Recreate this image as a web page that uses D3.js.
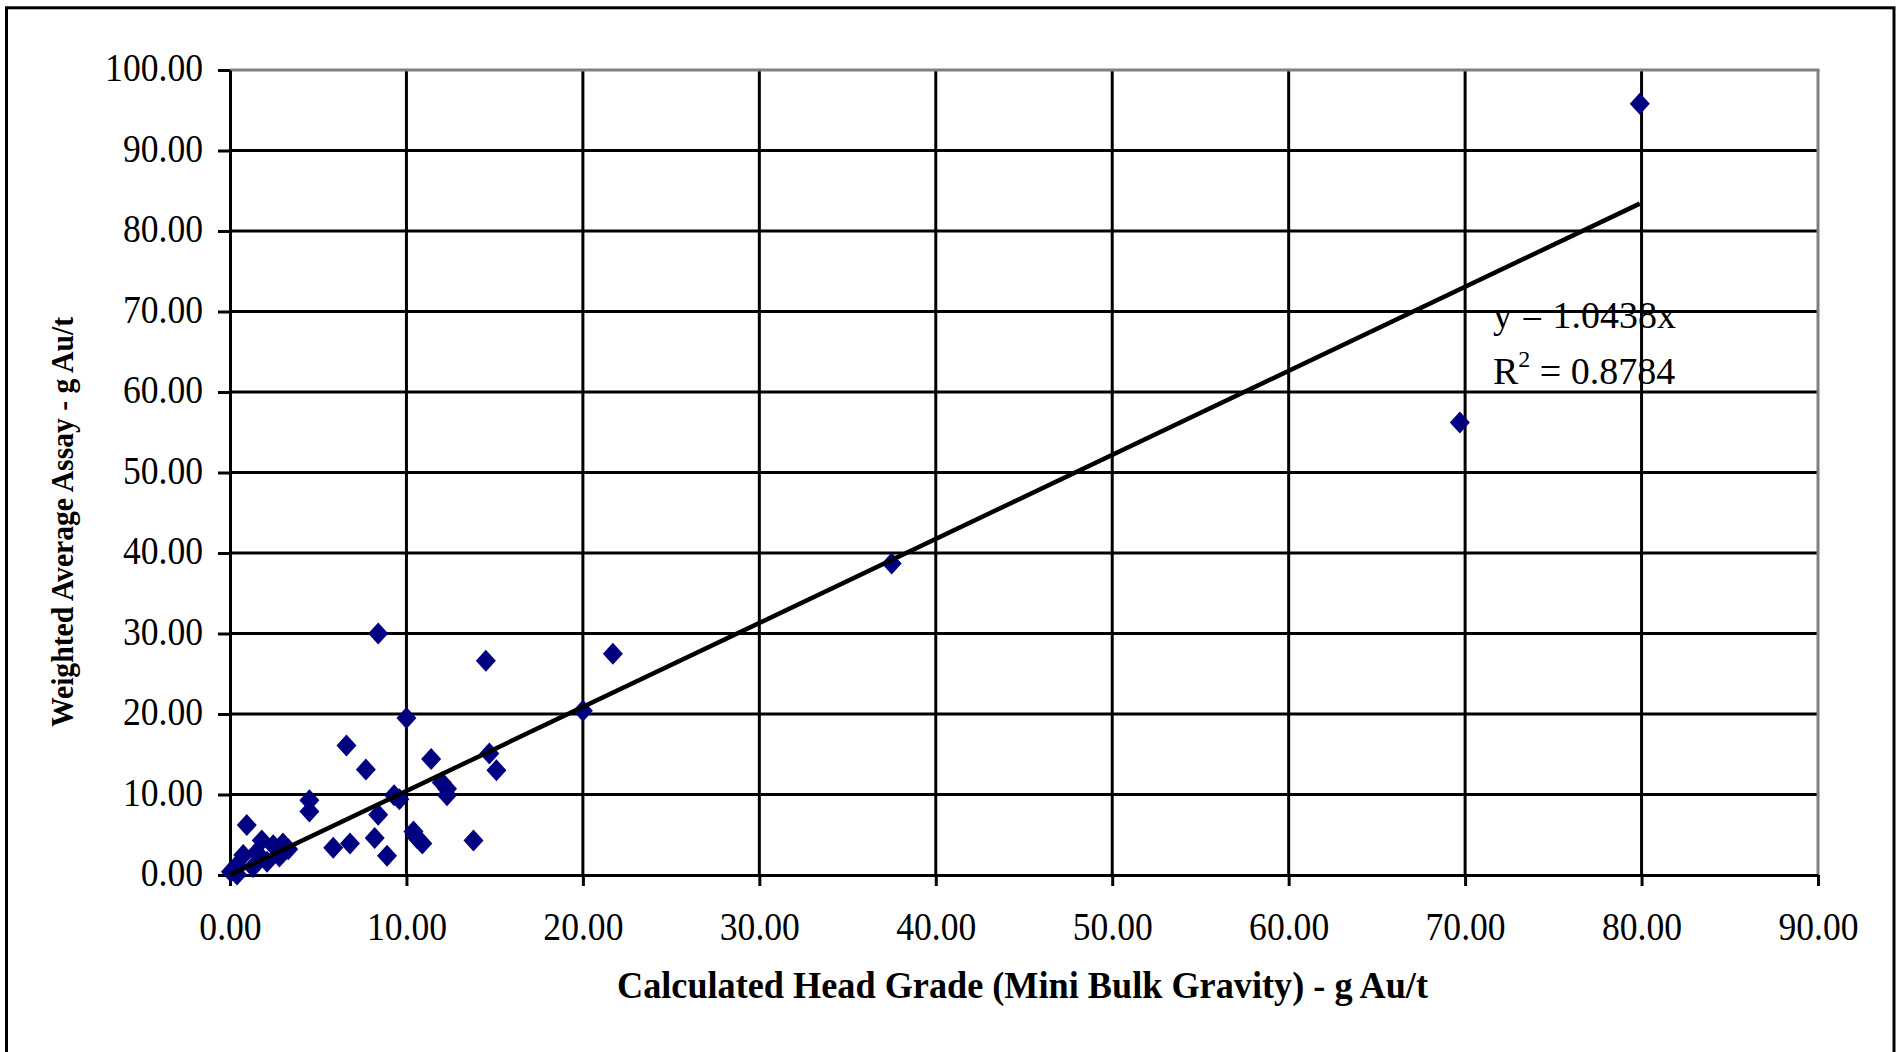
<!DOCTYPE html>
<html><head><meta charset="utf-8">
<script src="https://cdn.jsdelivr.net/npm/d3@7"></script>
<style>html,body{margin:0;padding:0;background:#fff;overflow:hidden}</style>
</head><body>
<svg id="chart" width="1900" height="1052"></svg>
<script>
// ---- data ----
const headGrade = [79.9, 69.7, 37.5, 21.7, 20.0, 8.4, 14.5, 10.0, 6.6, 7.7, 11.4, 14.7, 15.1, 12.0, 12.3, 12.3, 9.3, 9.6, 4.5, 4.5, 8.4, 10.4, 10.6, 10.9, 8.2, 8.9, 13.8, 5.85, 6.8, 0.95, 1.8, 2.45, 3.0, 2.8, 2.1, 0.75, 0.4, 0.05, 0.4, 1.3, 1.5, 3.3];
const assay     = [95.8, 56.2, 38.7, 27.5, 20.4, 30.0, 26.6, 19.5, 16.1, 13.1, 14.4, 15.1, 13.0, 11.5, 10.7, 9.9, 9.9, 9.4, 9.3, 7.9, 7.5, 5.4, 4.6, 3.9, 4.6, 2.4, 4.3, 3.4, 3.9, 6.2, 4.3, 3.7, 3.9, 2.3, 1.65, 2.5, 1.2, 0.4, 0.05, 1.0, 2.8, 3.2];
const xTickValues = [0, 10, 20, 30, 40, 50, 60, 70, 80, 90];
const yTickValues = [0, 10, 20, 30, 40, 50, 60, 70, 80, 90, 100];
const trendSlope = 1.0438;
const rSquared = 0.8784;
const xTitle = "Calculated Head Grade (Mini Bulk Gravity) - g Au/t";
const yTitle = "Weighted Average Assay - g Au/t";

// ---- layout ----
const W = 1900, H = 1052;
const P = {left: 230, right: 1818, top: 70, bottom: 875};
const svg = d3.select("#chart");
const x = d3.scaleLinear().domain([0, 90]).range([P.left, P.right]);
const y = d3.scaleLinear().domain([0, 100]).range([P.bottom, P.top]);
const fmt = d3.format(".2f");
const serif = "'Liberation Serif','Times New Roman',serif";

svg.append("rect").attr("width", W).attr("height", H).attr("fill", "#fff");
// outer chart frame (bottom edge falls outside the picture)
svg.append("rect").attr("x", 6.5).attr("y", 7.8).attr("width", 1887.5).attr("height", 1100)
  .attr("fill", "none").attr("stroke", "#000").attr("stroke-width", 3);

// gridlines
const grid = svg.append("g");
grid.selectAll("line.h").data(yTickValues.filter(v => v > 0 && v < 100)).join("line")
  .attr("x1", P.left).attr("x2", P.right).attr("y1", d => y(d)).attr("y2", d => y(d))
  .attr("stroke", "#000").attr("stroke-width", 3);
grid.selectAll("line.v").data(xTickValues.filter(v => v > 0 && v < 90)).join("line")
  .attr("y1", P.top).attr("y2", P.bottom).attr("x1", d => x(d)).attr("x2", d => x(d))
  .attr("stroke", "#000").attr("stroke-width", 3);
// gray plot-area border (top and right)
grid.append("line").attr("x1", P.left).attr("x2", x(90) + 1.5).attr("y1", y(100)).attr("y2", y(100))
  .attr("stroke", "#808080").attr("stroke-width", 3);
grid.append("line").attr("x1", x(90)).attr("x2", x(90)).attr("y1", y(100)).attr("y2", P.bottom)
  .attr("stroke", "#808080").attr("stroke-width", 3);

// axes
const yAxis = svg.append("g").attr("transform", `translate(${P.left},0)`)
  .call(d3.axisLeft(y).tickValues(yTickValues).tickFormat(fmt).tickSize(12).tickSizeOuter(0).tickPadding(15));
const xAxis = svg.append("g").attr("transform", `translate(0,${P.bottom})`)
  .call(d3.axisBottom(x).tickValues(xTickValues).tickFormat(fmt).tickSize(11).tickSizeOuter(0).tickPadding(26));
[yAxis, xAxis].forEach(a => {
  a.select(".domain").attr("stroke", "#000").attr("stroke-width", 3);
  a.selectAll(".tick line").attr("stroke", "#000").attr("stroke-width", 3);
  a.selectAll(".tick text").attr("font-family", serif).attr("font-size", 40).attr("fill", "#000");
});
yAxis.selectAll(".tick text").attr("dy", "0.27em");
svg.selectAll(".tick text").each(function() {
  const len = this.getComputedTextLength();
  d3.select(this).attr("textLength", len * 0.89).attr("lengthAdjust", "spacingAndGlyphs");
});

// markers
const diamond = "M0,-11L10,0L0,11L-10,0Z";
svg.append("g").selectAll("path").data(headGrade.map((v, i) => [v, assay[i]])).join("path")
  .attr("d", diamond)
  .attr("transform", d => `translate(${x(d[0])},${y(d[1])})`)
  .attr("fill", "#000080");

// linear trendline through origin
const xmax = d3.max(headGrade);
svg.append("line")
  .attr("x1", x(0)).attr("y1", y(0)).attr("x2", x(xmax)).attr("y2", y(trendSlope * xmax))
  .attr("stroke", "#000").attr("stroke-width", 4.5);

// equation label
const eq = svg.append("g").attr("font-family", serif).attr("font-size", 38).attr("fill", "#000");
eq.append("text").attr("x", 1493).attr("y", 328).text(`y = ${trendSlope}x`);
const r2 = eq.append("text").attr("x", 1493).attr("y", 384);
r2.append("tspan").text("R");
r2.append("tspan").attr("font-size", 24).attr("dy", -17).text("2");
r2.append("tspan").attr("dy", 17).text(` = ${rSquared}`);

// axis titles
svg.append("text").attr("x", 617).attr("y", 998)
  .attr("font-family", serif).attr("font-weight", "bold").attr("font-size", 38).attr("fill", "#000")
  .attr("textLength", 811).attr("lengthAdjust", "spacingAndGlyphs").text(xTitle);
svg.append("text").attr("transform", "translate(73,522) rotate(-90)").attr("text-anchor", "middle")
  .attr("font-family", serif).attr("font-weight", "bold").attr("font-size", 32).attr("fill", "#000")
  .attr("textLength", 410).attr("lengthAdjust", "spacingAndGlyphs").text(yTitle);
</script>
</body></html>
